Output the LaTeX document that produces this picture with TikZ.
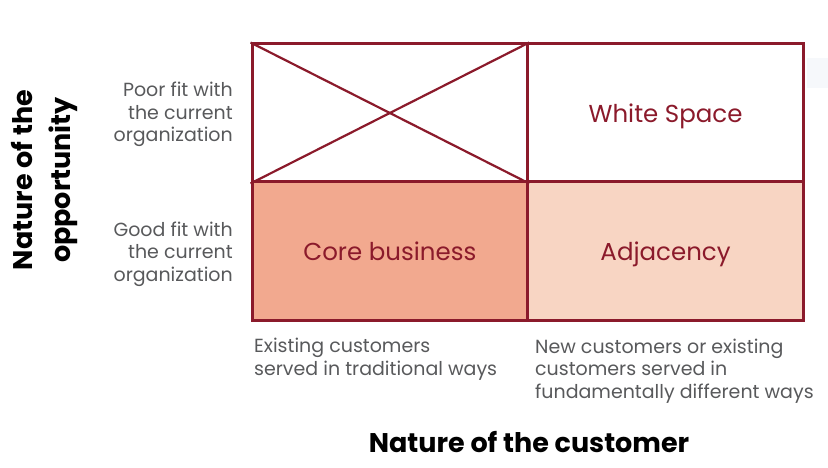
\documentclass[tikz,border=0pt]{standalone}
\usepackage{fontspec}
\setmainfont{Poppins}
\definecolor{bordred}{HTML}{8B1A2B}
\definecolor{corefill}{HTML}{F2A98F}
\definecolor{adjfill}{HTML}{F8D5C3}
\definecolor{txtgray}{HTML}{58595B}
\definecolor{ghost}{HTML}{F6F8FB}
\begin{document}
\begin{tikzpicture}[x=1pt,y=-1pt,
  cell/.style={draw=bordred, line width=3pt, minimum width=275.7pt, minimum height=138pt, inner sep=0pt},
  celltext/.style={text=bordred, font=\fontsize{24.5}{28}\selectfont, inner sep=0pt, anchor=base},
  side/.style={text=txtgray, font=\fontsize{19}{22.5}\selectfont, inner sep=0pt},
  axis/.style={text=black, font=\fontsize{27}{32}\selectfont\bfseries, inner sep=0pt}]
\useasboundingbox (0,0) rectangle (828,468);
\fill[ghost] (807,58) rectangle (828,88);
\node[cell, fill=corefill] (core) at (389.85,251) {};
\node[cell, fill=adjfill] (adj) at (665.55,251) {};
\node[cell, fill=white] (ws) at (665.55,113) {};
\node[cell, fill=white] (poor) at (389.85,113) {};
\draw[bordred, line width=2.2pt] (poor.north west) -- (poor.south east);
\draw[bordred, line width=2.2pt] (poor.north east) -- (poor.south west);
\node[cell] at (389.85,113) {};
\node[cell] at (665.55,113) {};
\node[celltext] (cbt) at (389.85,260) {Core business};
\node[celltext] (adt) at (665.55,260) {Adjacency};
\node[celltext] (wst) at (665.55,123) {White Space};
\node[side, align=right, anchor=base east] (pl) at (233,142) {Poor fit with\\the current\\organization};
\node[side, align=right, anchor=base east] (gl) at (233,281) {Good fit with\\the current\\organization};
\node[side, align=left, anchor=base west] (bl) at (254,375) {Existing customers\\served in traditional ways};
\node[side, align=left, anchor=base west] (br) at (535,398) {New customers or existing\\customers served in\\fundamentally different ways};
\node[axis, anchor=base] (xt) at (529,452) {Nature of the customer};
\node[axis, rotate=90, align=center, font=\fontsize{27}{38}\selectfont\bfseries] (yt) at (45,180) {Nature of the\\opportunity};
\end{tikzpicture}
\end{document}
